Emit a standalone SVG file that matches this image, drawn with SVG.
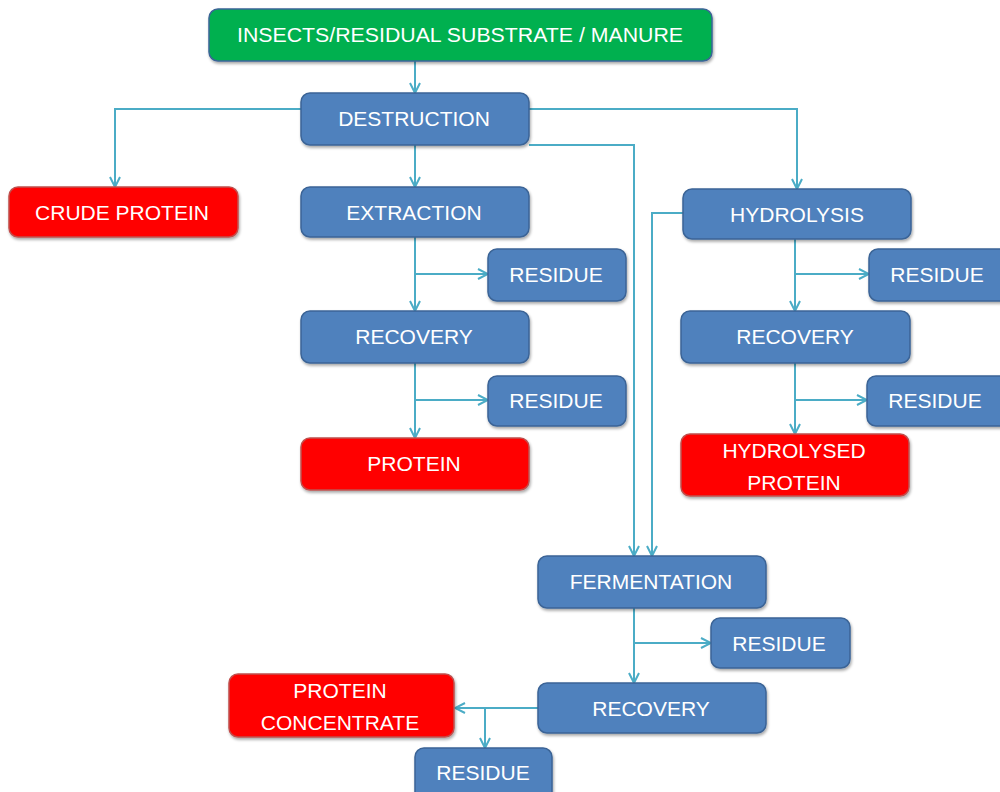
<svg xmlns="http://www.w3.org/2000/svg" width="1000" height="792" viewBox="0 0 1000 792">
  <defs>
    <filter id="shadow" x="-10%" y="-20%" width="125%" height="150%">
      <feGaussianBlur in="SourceAlpha" stdDeviation="1.5"/>
      <feOffset dx="1" dy="2" result="b"/>
      <feComponentTransfer><feFuncA type="linear" slope="0.35"/></feComponentTransfer>
      <feMerge><feMergeNode/><feMergeNode in="SourceGraphic"/></feMerge>
    </filter>
    <marker id="arr" viewBox="0 0 12 12" refX="11" refY="6" markerWidth="12" markerHeight="12" markerUnits="userSpaceOnUse" orient="auto">
      <path d="M1,1 L11,6 L1,11" fill="none" stroke="#4BACC6" stroke-width="2"/>
    </marker>
  </defs>
  <style>
    rect { filter: url(#shadow); }
    .blue rect { fill: #4F81BD; stroke: #3B6496; stroke-width: 1.5; }
    .red rect { fill: #FF0000; stroke: #C0504D; stroke-width: 1.5; }
    .green rect { fill: #00B050; stroke: #3B6496; stroke-width: 1.5; }
    text { font-family: "Liberation Sans", Arial, sans-serif; font-size: 21px; fill: #FFFFFF; text-anchor: middle; dominant-baseline: central; }
    .conn path { fill: none; stroke: #4BACC6; stroke-width: 2; }
  </style>

  <rect width="1000" height="792" fill="#FFFFFF" style="filter:none"/>

  <!-- connectors -->
  <g id="connectors" class="conn">
    <path d="M415,61 V93" marker-end="url(#arr)"/>
    <path d="M301,109 H115 V187" marker-end="url(#arr)"/>
    <path d="M529,109 H797 V189" marker-end="url(#arr)"/>
    <path d="M415,145 V187" marker-end="url(#arr)"/>
    <path d="M529,145 H634 V556" marker-end="url(#arr)"/>
    <path d="M683,213 H652 V556" marker-end="url(#arr)"/>
    <!-- extraction branch -->
    <path d="M415,237 V311" marker-end="url(#arr)"/>
    <path d="M415,274 H488" marker-end="url(#arr)"/>
    <path d="M415,363 V438" marker-end="url(#arr)"/>
    <path d="M415,400 H488" marker-end="url(#arr)"/>
    <!-- hydrolysis branch -->
    <path d="M795,239 V311" marker-end="url(#arr)"/>
    <path d="M795,274 H869" marker-end="url(#arr)"/>
    <path d="M795,363 V434" marker-end="url(#arr)"/>
    <path d="M795,400 H867" marker-end="url(#arr)"/>
    <!-- fermentation branch -->
    <path d="M634,608 V683" marker-end="url(#arr)"/>
    <path d="M634,643 H711" marker-end="url(#arr)"/>
    <path d="M538,708 H455" marker-end="url(#arr)"/>
    <path d="M485,708 V748" marker-end="url(#arr)"/>
  </g>

  <g id="source" class="green">
    <rect x="209" y="9" width="503" height="52" rx="9"/>
    <text x="460" y="34" textLength="446" lengthAdjust="spacingAndGlyphs">INSECTS/RESIDUAL SUBSTRATE / MANURE</text>
  </g>
  <g id="destruction" class="blue">
    <rect x="301" y="93" width="228" height="52" rx="9"/>
    <text x="414" y="118">DESTRUCTION</text>
  </g>
  <g id="crude-protein" class="red">
    <rect x="9" y="187" width="229" height="50" rx="9"/>
    <text x="122" y="212">CRUDE PROTEIN</text>
  </g>
  <g id="extraction" class="blue">
    <rect x="301" y="187" width="228" height="50" rx="9"/>
    <text x="414" y="212">EXTRACTION</text>
  </g>
  <g id="residue-1" class="blue">
    <rect x="488" y="249" width="138" height="52" rx="9"/>
    <text x="556" y="274">RESIDUE</text>
  </g>
  <g id="recovery-1" class="blue">
    <rect x="301" y="311" width="228" height="52" rx="9"/>
    <text x="414" y="336">RECOVERY</text>
  </g>
  <g id="residue-2" class="blue">
    <rect x="488" y="376" width="138" height="50" rx="9"/>
    <text x="556" y="400">RESIDUE</text>
  </g>
  <g id="protein" class="red">
    <rect x="301" y="438" width="228" height="52" rx="9"/>
    <text x="414" y="463">PROTEIN</text>
  </g>
  <g id="hydrolysis" class="blue">
    <rect x="683" y="189" width="228" height="50" rx="9"/>
    <text x="797" y="214">HYDROLYSIS</text>
  </g>
  <g id="residue-3" class="blue">
    <rect x="869" y="249" width="140" height="52" rx="9"/>
    <text x="937" y="274">RESIDUE</text>
  </g>
  <g id="recovery-2" class="blue">
    <rect x="681" y="311" width="229" height="52" rx="9"/>
    <text x="795" y="336">RECOVERY</text>
  </g>
  <g id="residue-4" class="blue">
    <rect x="867" y="376" width="142" height="50" rx="9"/>
    <text x="935" y="400">RESIDUE</text>
  </g>
  <g id="hydrolysed-protein" class="red">
    <rect x="681" y="434" width="228" height="62" rx="9"/>
    <text x="794" y="450">HYDROLYSED</text>
    <text x="794" y="482">PROTEIN</text>
  </g>
  <g id="fermentation" class="blue">
    <rect x="538" y="556" width="228" height="52" rx="9"/>
    <text x="651" y="581">FERMENTATION</text>
  </g>
  <g id="residue-5" class="blue">
    <rect x="711" y="618" width="139" height="50" rx="9"/>
    <text x="779" y="643">RESIDUE</text>
  </g>
  <g id="recovery-3" class="blue">
    <rect x="538" y="683" width="228" height="50" rx="9"/>
    <text x="651" y="708">RECOVERY</text>
  </g>
  <g id="protein-concentrate" class="red">
    <rect x="229" y="674" width="225" height="63" rx="9"/>
    <text x="340" y="690">PROTEIN</text>
    <text x="340" y="722">CONCENTRATE</text>
  </g>
  <g id="residue-6" class="blue">
    <rect x="415" y="748" width="137" height="56" rx="9"/>
    <text x="483" y="772">RESIDUE</text>
  </g>
</svg>
